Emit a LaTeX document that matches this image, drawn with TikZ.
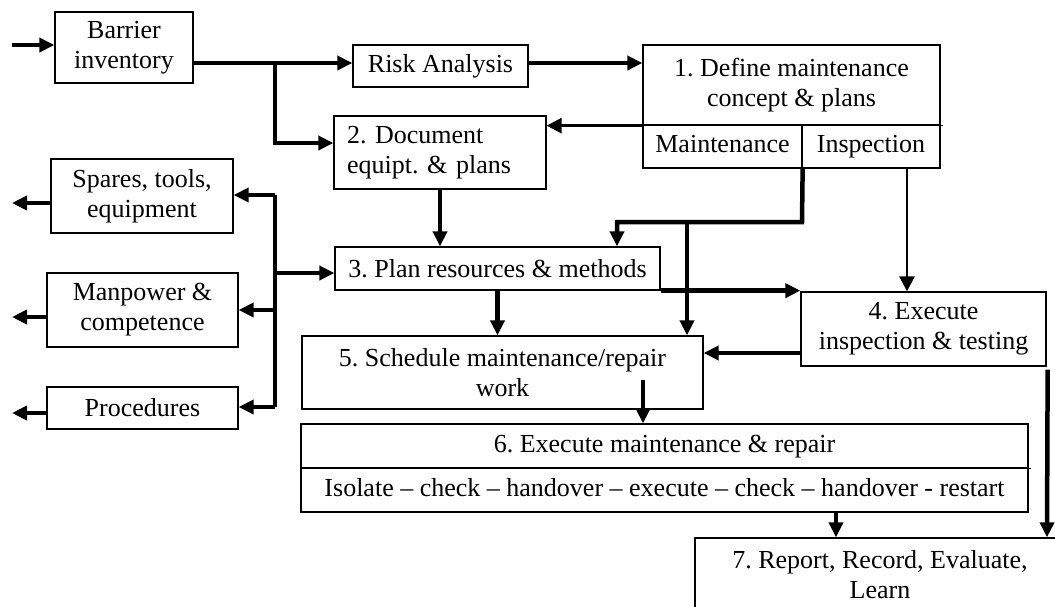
\documentclass[tikz,border=0pt]{standalone}
\usepackage{fontspec}
\setmainfont{Liberation Serif}
\usetikzlibrary{arrows.meta}
\tikzset{
  box/.style={draw, line width=1.3pt, inner sep=0pt, align=center, font=\fontsize{26}{30}\selectfont\frenchspacing},
  thickarr/.style={line width=4.5pt, -{Triangle[length=15pt,width=14pt]}},
  thinarr/.style={line width=2.8pt, -{Triangle[length=15pt,width=15pt]}},
  thickline/.style={line width=4.5pt},
}
\begin{document}
\begin{tikzpicture}[x=1pt,y=-1pt]
\path[use as bounding box, clip] (0,0) rectangle (1055,606);
\fill[white] (0,0) rectangle (1055,606);

% boxes
\node[box, minimum width=138pt, minimum height=71pt] (barrier) at (124,47.5) {Barrier\\inventory};
\node[box, minimum width=175pt, minimum height=42pt] (risk) at (440.5,66) {Risk Analysis};
\node[box, minimum width=297pt, minimum height=80pt] (box1top) at (791.5,85) {1. Define maintenance\\concept \& plans};
\node[box, minimum width=159pt, minimum height=43pt] (box1m) at (722.5,146.5) {\strut Maintenance};
\node[box, minimum width=138pt, minimum height=43pt] (box1i) at (871,146.5) {\strut Inspection};
\node[box, minimum width=212pt, minimum height=73pt, text width=186pt, inner xsep=13pt, align=left] (box2) at (440,152.5) {2. Document\\equipt. \& plans};
\node[box, minimum width=182pt, minimum height=74pt] (spares) at (142,196) {Spares, tools,\\equipment};
\node[box, minimum width=191pt, minimum height=74pt] (manpower) at (142.5,310) {Manpower \&\\competence};
\node[box, minimum width=191pt, minimum height=42pt] (proc) at (142.5,408) {Procedures};
\node[box, minimum width=325pt, minimum height=43pt] (box3) at (497.5,268.5) {3. Plan resources \& methods};
\node[box, minimum width=245pt, minimum height=74pt] (box4) at (923.5,329) {4. Execute\\inspection \& testing};
\node[box, minimum width=401pt, minimum height=73pt] (box5) at (502.5,372.5) {5. Schedule maintenance/repair\\work};
\node[box, minimum width=727pt, minimum height=44pt] (box6top) at (664.5,446) {\strut 6. Execute maintenance \& repair};
\node[box, minimum width=727pt, minimum height=44pt] (box6bot) at (664.5,490) {\strut Isolate -- check -- handover -- execute -- check -- handover - restart};
\node[box, minimum width=370pt, minimum height=74pt] (box7) at (880,575) {7. Report, Record, Evaluate,\\Learn};

% small overshoots of divider lines
\draw[line width=1.3pt] (box1top.south east) -- ++(2,0);
\draw[line width=1.3pt] (box6top.south east) -- ++(2,0);

% coordinates
\coordinate (inB) at (12,45);
\coordinate (j1) at (275,63);
\coordinate (busTop) at (275,195);
\coordinate (busBot) at (275,407);
\coordinate (m1) at (802,222);
\coordinate (m2) at (617,222);
\coordinate (m3) at (687,222);
\coordinate (s5) at (643,380);
\coordinate (outS) at (12,203);
\coordinate (outM) at (12,317);
\coordinate (outP) at (12,413);

% connectors
\draw[thickarr] (inB) -- (inB -| barrier.west);
\draw[thickarr] (barrier.east |- j1) -- (risk.west |- j1);
\draw[thickarr] (j1) |- (box2.west |- 0,143);
\draw[thickarr] (risk.east |- j1) -- (box1top.west |- j1);
\draw[thinarr] (box1top.south west) -- (box2.east |- box1top.south west);
\draw[thickarr] (box2.south) -- (box2.south |- box3.north);
\draw[thickarr] (box1m.south east) -- (m1) -- (m2) -- (box3.north -| m2);
\draw[thickarr] (m3) -- (box5.north -| m3);
\draw[thickarr] (box3.south east) -- (box3.south east -| box4.west);
\draw[thinarr] (box1i.south -| 907,0) -- (box4.north -| 907,0);
\draw[thickarr] (box4.west |- 0,353) -- (box5.east |- 0,353);
\draw[thickarr] (box3.south) -- (box3.south |- box5.north);
\draw[thickarr] (s5) -- (box6top.north -| s5);
\draw[thickarr] (box6bot.south -| 836,0) -- (box7.north -| 836,0);
\draw[thickarr] (box4.south east) ++(1,3) -- (box7.north -| 1047,0);

% bus on the left
\draw[thickline] (busTop) -- (busBot);
\draw[thickarr] (busTop) -- (busTop -| spares.east);
\draw[thickarr] (275,310) -- (manpower.east |- 0,310);
\draw[thickarr] (busBot) -- (busBot -| proc.east);
\draw[thickarr] (275,273) -- (box3.west |- 0,273);

\draw[thickarr] (spares.west |- outS) -- (outS);
\draw[thickarr] (manpower.west |- outM) -- (outM);
\draw[thickarr] (proc.west |- outP) -- (outP);
\end{tikzpicture}
\end{document}
